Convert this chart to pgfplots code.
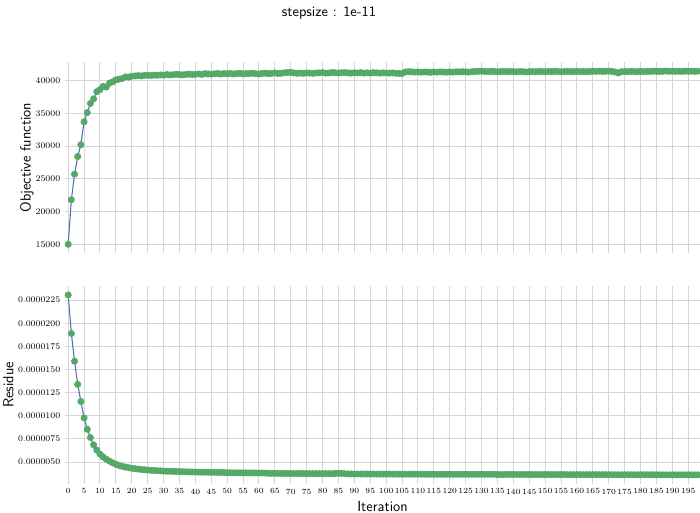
\documentclass[border=0pt]{standalone}
\usepackage{pgfplots}
\usepackage{pgfplotstable}
\pgfplotsset{compat=1.18}
\definecolor{sbblue}{HTML}{4C72B0}
\definecolor{sbgreen}{HTML}{55A868}
\definecolor{gridc}{HTML}{D6D6D6}

\pgfplotstableread{
x y
0 15000
1 21800
2 25700
3 28400
4 30200
5 33700
6 35100
7 36500
8 37200
9 38300
10 38600
11 39100
12 39000
13 39600
14 39800
15 40100
16 40200
17 40300
18 40550
19 40500
20 40650
21 40700
22 40750
23 40700
24 40780
25 40800
26 40750
27 40820
28 40800
29 40850
30 40820
31 40900
32 40850
33 40880
34 40950
35 40900
36 40870
37 40920
38 40980
39 40900
40 40950
41 41000
42 40930
43 41050
44 41000
45 40980
46 41020
47 41080
48 40990
49 41050
50 41030
51 41080
52 41000
53 41060
54 41100
55 41020
56 41070
57 41050
58 41110
59 41040
60 41000
61 41080
62 41120
63 41050
64 41090
65 41150
66 41070
67 41100
68 41180
69 41220
70 41250
71 41150
72 41100
73 41130
74 41080
75 41160
76 41120
77 41090
78 41140
79 41170
80 41200
81 41120
82 41150
83 41230
84 41180
85 41140
86 41190
87 41210
88 41160
89 41130
90 41180
91 41150
92 41200
93 41120
94 41170
95 41140
96 41190
97 41160
98 41130
99 41170
100 41150
101 41120
102 41160
103 41100
104 41080
105 41050
106 41300
107 41350
108 41320
109 41280
110 41300
111 41260
112 41310
113 41280
114 41250
115 41300
116 41270
117 41320
118 41290
119 41260
120 41310
121 41280
122 41330
123 41300
124 41350
125 41310
126 41280
127 41340
128 41380
129 41400
130 41420
131 41380
132 41350
133 41400
134 41370
135 41330
136 41360
137 41390
138 41340
139 41380
140 41360
141 41320
142 41380
143 41340
144 41300
145 41350
146 41370
147 41330
148 41390
149 41360
150 41340
151 41380
152 41350
153 41400
154 41370
155 41330
156 41360
157 41390
158 41350
159 41370
160 41400
161 41360
162 41380
163 41340
164 41370
165 41410
166 41390
167 41420
168 41380
169 41400
170 41430
171 41390
172 41300
173 41150
174 41330
175 41380
176 41350
177 41400
178 41370
179 41340
180 41390
181 41360
182 41400
183 41370
184 41420
185 41390
186 41380
187 41410
188 41440
189 41400
190 41420
191 41390
192 41410
193 41380
194 41430
195 41400
196 41420
197 41390
198 41410
199 41440
}\objtable

\pgfplotstableread{
x y
0 23.06e-6
1 18.9e-6
2 15.9e-6
3 13.4e-6
4 11.55e-6
5 9.77e-6
6 8.54e-6
7 7.65e-6
8 6.86e-6
9 6.3e-6
10 5.86e-6
11 5.55e-6
12 5.3e-6
13 5.1e-6
14 4.92e-6
15 4.76e-6
16 4.64e-6
17 4.54e-6
18 4.46e-6
19 4.39e-6
20 4.33e-6
21 4.28e-6
22 4.24e-6
23 4.2e-6
24 4.17e-6
25 4.14e-6
26 4.11e-6
27 4.09e-6
28 4.07e-6
29 4.05e-6
30 4.03e-6
31 4.01e-6
32 4.0e-6
33 3.99e-6
34 3.98e-6
35 3.97e-6
36 3.96e-6
37 3.95e-6
38 3.94e-6
39 3.93e-6
40 3.92e-6
41 3.91e-6
42 3.91e-6
43 3.9e-6
44 3.9e-6
45 3.89e-6
46 3.89e-6
47 3.88e-6
48 3.88e-6
49 3.88e-6
50 3.85e-6
51 3.85e-6
52 3.84e-6
53 3.84e-6
54 3.84e-6
55 3.83e-6
56 3.83e-6
57 3.83e-6
58 3.82e-6
59 3.82e-6
60 3.82e-6
61 3.82e-6
62 3.81e-6
63 3.78e-6
64 3.78e-6
65 3.78e-6
66 3.77e-6
67 3.77e-6
68 3.77e-6
69 3.77e-6
70 3.76e-6
71 3.76e-6
72 3.76e-6
73 3.76e-6
74 3.76e-6
75 3.75e-6
76 3.75e-6
77 3.75e-6
78 3.75e-6
79 3.75e-6
80 3.75e-6
81 3.75e-6
82 3.75e-6
83 3.74e-6
84 3.78e-6
85 3.78e-6
86 3.78e-6
87 3.74e-6
88 3.72e-6
89 3.72e-6
90 3.71e-6
91 3.71e-6
92 3.71e-6
93 3.71e-6
94 3.71e-6
95 3.7e-6
96 3.7e-6
97 3.7e-6
98 3.7e-6
99 3.7e-6
100 3.7e-6
101 3.7e-6
102 3.7e-6
103 3.7e-6
104 3.69e-6
105 3.69e-6
106 3.69e-6
107 3.69e-6
108 3.69e-6
109 3.69e-6
110 3.69e-6
111 3.69e-6
112 3.69e-6
113 3.68e-6
114 3.68e-6
115 3.68e-6
116 3.68e-6
117 3.68e-6
118 3.68e-6
119 3.68e-6
120 3.68e-6
121 3.68e-6
122 3.68e-6
123 3.68e-6
124 3.68e-6
125 3.68e-6
126 3.68e-6
127 3.68e-6
128 3.68e-6
129 3.68e-6
130 3.68e-6
131 3.68e-6
132 3.68e-6
133 3.68e-6
134 3.68e-6
135 3.65e-6
136 3.65e-6
137 3.65e-6
138 3.68e-6
139 3.66e-6
140 3.66e-6
141 3.66e-6
142 3.66e-6
143 3.66e-6
144 3.66e-6
145 3.66e-6
146 3.65e-6
147 3.65e-6
148 3.65e-6
149 3.65e-6
150 3.65e-6
151 3.65e-6
152 3.65e-6
153 3.65e-6
154 3.65e-6
155 3.65e-6
156 3.65e-6
157 3.64e-6
158 3.64e-6
159 3.64e-6
160 3.64e-6
161 3.64e-6
162 3.64e-6
163 3.64e-6
164 3.64e-6
165 3.64e-6
166 3.64e-6
167 3.64e-6
168 3.64e-6
169 3.64e-6
170 3.64e-6
171 3.63e-6
172 3.63e-6
173 3.63e-6
174 3.63e-6
175 3.63e-6
176 3.63e-6
177 3.63e-6
178 3.63e-6
179 3.63e-6
180 3.63e-6
181 3.63e-6
182 3.63e-6
183 3.63e-6
184 3.63e-6
185 3.63e-6
186 3.62e-6
187 3.62e-6
188 3.62e-6
189 3.62e-6
190 3.62e-6
191 3.62e-6
192 3.62e-6
193 3.62e-6
194 3.62e-6
195 3.62e-6
196 3.62e-6
197 3.62e-6
198 3.62e-6
199 3.62e-6
}\restable

\pgfplotsset{
  sbstyle/.style={
    scale only axis,
    width=476.25pt,
    xmin=-1, xmax=198.7,
    xtick={0,5,...,195},
    scaled x ticks=false,
    scaled y ticks=false,
    grid=major,
    major grid style={gridc, line width=0.75pt},
    axis line style={draw=none},
    tick style={draw=none},
    xticklabel style={font=\fontsize{5.9}{7}\selectfont},
    yticklabel style={font=\fontsize{6.5}{8}\selectfont},
    label style={font=\sffamily\fontsize{11}{13}\selectfont},
    anchor=south west,
  }
}

\begin{document}
\begin{tikzpicture}
\useasboundingbox (0,0) rectangle (525pt,384.75pt);
\node[font=\sffamily\fontsize{10.8}{13}\selectfont] at (246.75pt,375pt) {stepsize : 1e-11};

\begin{axis}[sbstyle,
  at={(48.75pt,195pt)},
  height=143.25pt,
  ymin=13675, ymax=42825,
  ytick={15000,20000,25000,30000,35000,40000},
  yticklabels={15000,20000,25000,30000,35000,40000},
  xticklabels={},
  ylabel={Objective function},
  ylabel style={at={(axis description cs:-0.06,0.5)},anchor=center},
]
\addplot[only marks, mark=*, mark size=2.4pt, color=sbgreen, mark options={fill=sbgreen, draw=sbgreen}] table[x=x,y=y] {\objtable};
\addplot[sbblue, line width=0.8pt, no marks] table[x=x,y=y] {\objtable};
\end{axis}

\begin{axis}[sbstyle,
  at={(48.75pt,21.75pt)},
  height=148.5pt,
  ymin=2.63e-6, ymax=24.03e-6,
  ytick={5e-6,7.5e-6,10e-6,12.5e-6,15e-6,17.5e-6,20e-6,22.5e-6},
  yticklabels={0.0000050,0.0000075,0.0000100,0.0000125,0.0000150,0.0000175,0.0000200,0.0000225},
  xticklabels={0,5,10,15,20,25,30,35,40,45,50,55,60,65,70,75,80,85,90,95,100,105,110,115,120,125,130,135,140,145,150,155,160,165,170,175,180,185,190,195},
  xlabel={Iteration},
  ylabel={Residue},
  ylabel style={at={(axis description cs:-0.089,0.5)},anchor=center},
  xlabel style={at={(axis description cs:0.5,-0.116)},anchor=center},
]
\addplot[sbblue, line width=0.8pt, no marks] table[x=x,y=y] {\restable};
\addplot[only marks, mark=*, mark size=2.4pt, color=sbgreen, mark options={fill=sbgreen, draw=sbgreen}] table[x=x,y=y] {\restable};
\end{axis}
\end{tikzpicture}
\end{document}
